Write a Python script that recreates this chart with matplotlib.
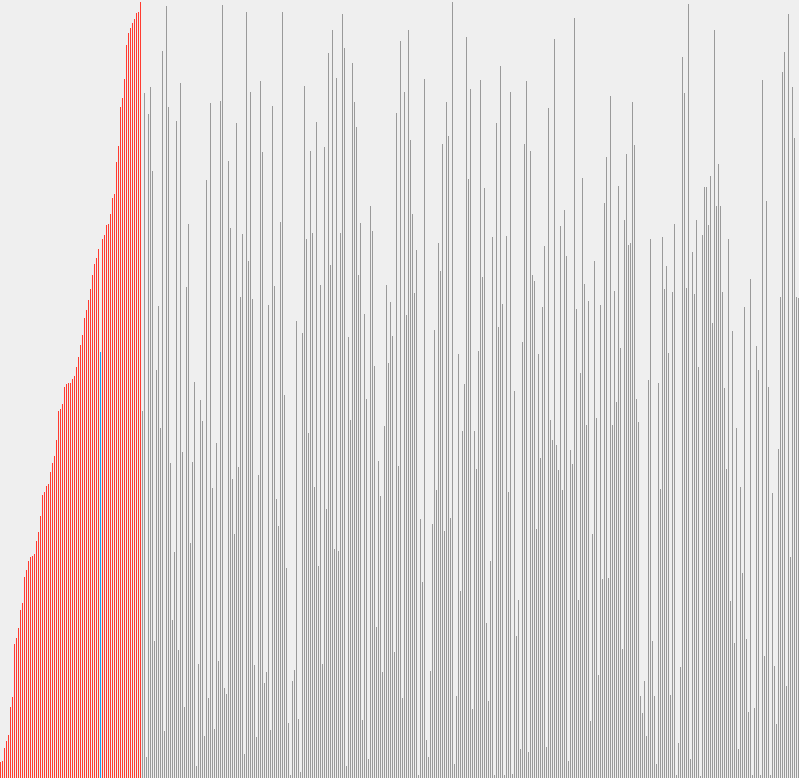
import matplotlib
matplotlib.use("Agg")
import matplotlib.pyplot as plt

# Insertion sort snapshot: sorted prefix (red), element being inserted (blue),
# untouched rest of the array (grey). Heights in screen pixels of the original.
sorted_values = [
    16, 17, 30, 37, 43, 71, 81, 134, 140, 150,
    168, 175, 201, 208, 217, 221, 222, 224, 237, 246,
    262, 283, 286, 292, 294, 306, 315, 322, 338, 367,
    369, 374, 391, 394, 395, 395, 399, 402, 411, 421,
    433, 443, 460, 468, 478, 489, 503, 514, 520, 529,
    426, 539, 543, 553, 554, 564, 580, 584, 616, 632,
    671, 680, 699, 733, 745, 750, 755, 759, 765, 766,
    776,
]
current_index = 50

unsorted_values = [
    367, 685, 21, 664, 691, 607, 137, 408, 472, 350,
    727, 47, 772, 671, 315, 158, 226, 657, 128, 695,
    326, 71, 491, 554, 235, 316, 396, 12, 114, 378,
    357, 42, 598, 80, 675, 290, 49, 335, 117, 677,
    773, 90, 84, 617, 550, 299, 244, 655, 311, 481,
    544, 24, 766, 517, 686, 479, 113, 41, 303, 697,
    626, 95, 106, 473, 48, 672, 492, 279, 252, 556,
    766, 383, 210, 55, 3, 97, 108, 457, 59, 6,
    445, 692, 539, 345, 627, 545, 291, 656, 212, 493,
    114, 631, 269, 725, 513, 748, 229, 700, 227, 545,
    764, 730, 12, 441, 358, 715, 676, 651, 503, 555,
    58, 464, 379, 19, 572, 547, 412, 151, 317, 282,
    106, 352, 493, 415, 476, 442, 126, 665, 312, 737,
    80, 686, 463, 748, 638, 564, 485, 528, 3, 259,
    196, 699, 38, 21, 107, 254, 448, 288, 535, 507,
    634, 247, 676, 642, 260, 776, 14, 82, 424, 187,
    347, 394, 741, 599, 689, 69, 347, 309, 427, 698,
    501, 590, 155, 77, 217, 541, 3, 655, 451, 712,
    474, 3, 542, 286, 686, 4, 387, 142, 178, 29,
    436, 634, 697, 26, 627, 503, 497, 249, 424, 320,
    471, 532, 31, 670, 358, 338, 739, 333, 308, 552,
    288, 568, 522, 17, 328, 314, 760, 469, 178, 405,
    600, 494, 353, 477, 57, 244, 517, 360, 103, 473,
    199, 575, 621, 200, 682, 353, 487, 376, 592, 430,
    129, 558, 624, 533, 535, 676, 633, 379, 356, 82,
    65, 97, 42, 398, 539, 137, 82, 14, 395, 289,
    541, 489, 512, 425, 83, 486, 554, 3, 35, 111,
    721, 685, 490, 774, 19, 526, 484, 558, 411, 2,
    543, 591, 591, 553, 602, 455, 748, 572, 614, 572,
    486, 390, 309, 539, 177, 447, 135, 350, 29, 291,
    205, 471, 139, 66, 499, 3, 70, 432, 408, 3,
    698, 122, 577, 391, 3, 285, 112, 54, 329, 481,
    706, 726, 92, 764, 221, 691, 640, 481, 480,
]

BG = "#efefef"
RED = "#ff3b30"
BLUE = "#1a9ff0"
GREY = "#9a9a9a"

values = sorted_values + unsorted_values
colors = [RED] * len(sorted_values) + [GREY] * len(unsorted_values)
colors[current_index] = BLUE

fig = plt.figure(figsize=(7.99, 7.78), dpi=100, facecolor=BG)
ax = fig.add_axes([0, 0, 1, 1])
ax.set_facecolor(BG)

ax.bar(range(len(values)), values, width=0.5, align="edge",
       color=colors, linewidth=0)

ax.set_xlim(0, 399.5)
ax.set_ylim(0, 778)
ax.axis("off")

fig.savefig("out.png", dpi=100, facecolor=BG)
